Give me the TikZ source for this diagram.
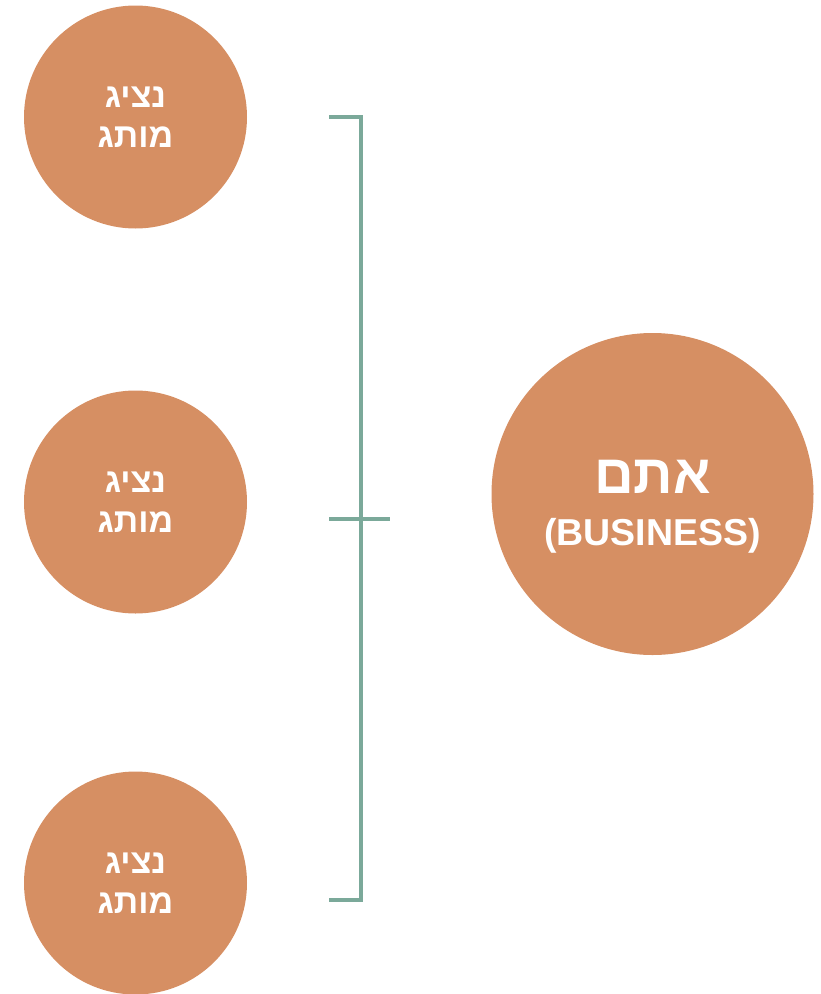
\documentclass[tikz,border=0pt]{standalone}
\usepackage{fontspec}
\setmainfont{Liberation Sans}
\newfontfamily\hebfont[Script=Hebrew]{Liberation Sans}
\TeXXeTstate=1
\definecolor{brand}{HTML}{D68F63}
\definecolor{brace}{HTML}{7BA99A}

\begin{document}
\begin{tikzpicture}[x=1pt, y=-1pt,
  every node/.style={inner sep=0pt, outer sep=0pt, text=white, align=center},
  rep/.style={circle, fill=brand, minimum size=223pt, font=\hebfont\bfseries\fontsize{34}{40}\selectfont},
  you/.style={circle, fill=brand, minimum size=322pt},
  youtext/.style={font=\hebfont\bfseries\fontsize{55}{58}\selectfont}]
\useasboundingbox (0,0) rectangle (821,994);

\node[rep] (rep1) at (135.5,117) {\beginR נציג\endR\\\beginR מותג\endR};
\node[rep] (rep2) at (135.5,502) {\beginR נציג\endR\\\beginR מותג\endR};
\node[rep] (rep3) at (135.5,883) {\beginR נציג\endR\\\beginR מותג\endR};

\node[you] (biz) at (652.5,494) {};
\node[youtext] (biztext) at (652.5,507) {\beginR אתם\endR\\[-6pt]{\fontsize{37.5}{40}\selectfont(BUSINESS)}};

% bracket
\coordinate (bt) at (329,117);
\coordinate (bb) at (329,900);
\coordinate (bm) at (329,519);
\draw[brace, line width=3.5pt] (bt) -- (361,117) -- (361,900) -- (bb);
\draw[brace, line width=3.5pt] (bm) -- (390,519);
\end{tikzpicture}
\end{document}
